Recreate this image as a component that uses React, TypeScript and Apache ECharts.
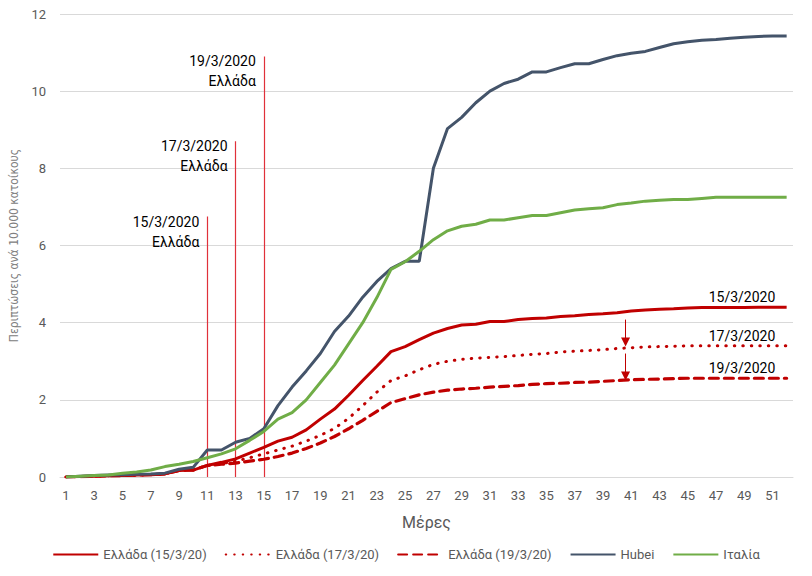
import React, { useEffect, useRef } from "react";
import * as echarts from "echarts";

const days = [1, 2, 3, 4, 5, 6, 7, 8, 9, 10, 11, 12, 13, 14, 15, 16, 17, 18, 19, 20, 21, 22, 23, 24, 25, 26, 27, 28, 29, 30, 31, 32, 33, 34, 35, 36, 37, 38, 39, 40, 41, 42, 43, 44, 45, 46, 47, 48, 49, 50, 51, 52];
const tickDays = [1, 3, 5, 7, 9, 11, 13, 15, 17, 19, 21, 23, 25, 27, 29, 31, 33, 35, 37, 39, 41, 43, 45, 47, 49, 51];

const greece15 = [0, 0.01, 0.02, 0.03, 0.04, 0.05, 0.06, 0.08, 0.17, 0.18, 0.3, 0.38, 0.47, 0.62, 0.77, 0.93, 1.03, 1.22, 1.5, 1.76, 2.12, 2.5, 2.87, 3.25, 3.38, 3.56, 3.73, 3.85, 3.94, 3.96, 4.03, 4.03, 4.08, 4.11, 4.12, 4.16, 4.18, 4.21, 4.23, 4.26, 4.3, 4.33, 4.35, 4.36, 4.38, 4.39, 4.39, 4.39, 4.39, 4.4, 4.4, 4.4];
const greece17 = [0, 0.01, 0.02, 0.03, 0.04, 0.05, 0.06, 0.08, 0.17, 0.18, 0.3, 0.35, 0.41, 0.5, 0.6, 0.7, 0.8, 0.93, 1.08, 1.26, 1.52, 1.85, 2.2, 2.5, 2.62, 2.78, 2.92, 3.0, 3.05, 3.08, 3.1, 3.12, 3.15, 3.18, 3.2, 3.24, 3.26, 3.28, 3.3, 3.33, 3.35, 3.37, 3.38, 3.39, 3.4, 3.4, 3.4, 3.4, 3.4, 3.4, 3.4, 3.4];
const greece19 = [0, 0.01, 0.02, 0.03, 0.04, 0.05, 0.06, 0.08, 0.17, 0.18, 0.3, 0.33, 0.36, 0.41, 0.46, 0.53, 0.62, 0.74, 0.88, 1.05, 1.25, 1.47, 1.7, 1.93, 2.03, 2.13, 2.2, 2.25, 2.28, 2.3, 2.33, 2.35, 2.37, 2.4, 2.42, 2.43, 2.45, 2.46, 2.48, 2.5, 2.52, 2.53, 2.54, 2.55, 2.56, 2.56, 2.56, 2.56, 2.56, 2.56, 2.56, 2.56];
const hubei = [0, 0.02, 0.04, 0.05, 0.06, 0.07, 0.08, 0.1, 0.2, 0.25, 0.7, 0.7, 0.9, 1.0, 1.25, 1.85, 2.33, 2.75, 3.2, 3.77, 4.17, 4.66, 5.07, 5.4, 5.59, 5.59, 8.0, 9.03, 9.32, 9.7, 10.0, 10.2, 10.31, 10.5, 10.5, 10.61, 10.71, 10.71, 10.82, 10.92, 10.98, 11.03, 11.13, 11.23, 11.28, 11.32, 11.34, 11.37, 11.4, 11.42, 11.43, 11.43];
const italy = [0, 0.02, 0.04, 0.05, 0.1, 0.13, 0.18, 0.27, 0.33, 0.4, 0.5, 0.6, 0.73, 0.95, 1.18, 1.5, 1.67, 2.0, 2.45, 2.9, 3.45, 4.0, 4.65, 5.38, 5.58, 5.85, 6.15, 6.38, 6.5, 6.55, 6.66, 6.66, 6.72, 6.78, 6.78, 6.85, 6.92, 6.95, 6.98, 7.06, 7.1, 7.15, 7.17, 7.19, 7.19, 7.22, 7.25, 7.25, 7.25, 7.25, 7.25, 7.25];

const seriesNames = ["Ελλάδα (15/3/20)", "Ελλάδα (17/3/20)", "Ελλάδα (19/3/20)", "Hubei", "Ιταλία"];

// vertical annotation lines
const annotationDays = [11, 13, 15];
const annotationTops = [6.75, 8.7, 10.9];
const annotationLabels = ["15/3/2020", "17/3/2020", "19/3/2020"];
const annotationSub = "Ελλάδα";

// right-hand labels
const endLabelDay = 51.2;
const endLabels = ["15/3/2020", "17/3/2020", "19/3/2020"];
const endLabelValues = [4.4, 3.4, 2.56];

// arrows
const arrowDay = 40.6;
const arrowStarts = [4.08, 3.2];
const arrowEnds = [3.5, 2.62];

const FONT = "Roboto, 'Noto Sans', sans-serif";
const RED = "#C00000";
const HUBEI = "#44546A";
const ITALY = "#70AD47";

function pairs(vals: number[]) {
  return days.map((d, i) => [d, vals[i]]);
}

export default function App() {
  const ref = useRef<HTMLDivElement>(null);
  useEffect(() => {
    const chart = echarts.init(ref.current!, null, { renderer: "svg" });

    const vLines = annotationDays.map((d, i) => [
      { coord: [d, 0] },
      { coord: [d, annotationTops[i]] },
    ]);
    const arrows = arrowStarts.map((s, i) => [
      { coord: [arrowDay, s], symbol: "none" },
      { coord: [arrowDay, arrowEnds[i]], symbol: "triangle", symbolSize: [9, 9], symbolRotate: 180 },
    ]);

    const option: any = {
      animation: false,
      backgroundColor: "#ffffff",
      textStyle: { fontFamily: FONT },
      grid: { left: 60, right: 19, top: 14, bottom: 99, containLabel: false },
      legend: {
        data: seriesNames,
        top: 543,
        left: "center",
        itemWidth: 45,
        itemHeight: 4,
        itemGap: 18,
        itemStyle: { opacity: 0 },
        textStyle: { fontSize: 13, color: "#595959", fontFamily: FONT },
      },
      xAxis: {
        type: "value",
        min: 0.575,
        max: 52.45,
        name: "Μέρες",
        nameLocation: "middle",
        nameGap: 37,
        nameTextStyle: { fontSize: 16, color: "#595959", fontFamily: FONT },
        axisLine: { show: true, lineStyle: { color: "#D9D9D9", width: 1 } },
        axisTick: { show: false },
        splitLine: { show: false },
        axisLabel: {
          customValues: tickDays,
          fontSize: 13,
          color: "#595959",
          margin: 12,
          fontFamily: FONT,
        },
      },
      yAxis: {
        type: "value",
        min: 0,
        max: 12,
        interval: 2,
        name: "Περιπτώσεις ανά 10.000 κατοίκους",
        nameLocation: "middle",
        nameGap: 32,
        nameTextStyle: {
          fontSize: 12,
          color: "#808080",
          padding: [0, 0, 0, 0],
          fontFamily: "'DejaVu Sans Condensed', 'Liberation Sans Narrow', Roboto, sans-serif",
        },
        axisLine: { show: false },
        axisTick: { show: false },
        splitLine: { show: true, lineStyle: { color: "#D9D9D9", width: 1 } },
        axisLabel: { fontSize: 13, color: "#595959", margin: 14, fontFamily: FONT },
      },
      series: [
        {
          name: seriesNames[0],
          type: "line",
          data: pairs(greece15),
          symbol: "none",
          lineStyle: { color: RED, width: 3 },
          itemStyle: { color: RED },
          z: 3,
          markLine: {
            silent: true,
            symbol: "none",
            label: { show: false },
            lineStyle: { color: "#E0303A", width: 1.2, type: "solid" },
            data: [...vLines],
            z: 1,
          },
        },
        {
          name: seriesNames[1],
          type: "line",
          data: pairs(greece17),
          symbol: "none",
          lineStyle: { color: RED, width: 3, type: [0.5, 8], cap: "round" },
          itemStyle: { color: RED },
          z: 3,
          markLine: {
            silent: true,
            label: { show: false },
            lineStyle: { color: RED, width: 1, type: "solid" },
            data: arrows,
          },
        },
        {
          name: seriesNames[2],
          type: "line",
          data: pairs(greece19),
          symbol: "none",
          lineStyle: { color: RED, width: 3.2, type: [9, 6], cap: "round" },
          itemStyle: { color: RED },
          z: 3,
        },
        {
          name: seriesNames[3],
          type: "line",
          data: pairs(hubei),
          symbol: "none",
          lineStyle: { color: HUBEI, width: 3 },
          itemStyle: { color: HUBEI },
          z: 4,
        },
        {
          name: seriesNames[4],
          type: "line",
          data: pairs(italy),
          symbol: "none",
          lineStyle: { color: ITALY, width: 3 },
          itemStyle: { color: ITALY },
          z: 4,
        },
      ],
    };

    chart.setOption(option);

    const graphics: any[] = [];
    annotationDays.forEach((d, i) => {
      const p = chart.convertToPixel({ gridIndex: 0 }, [d, annotationTops[i]]) as number[];
      graphics.push({
        type: "text",
        x: p[0] - 8,
        y: p[1] - 5,
        z: 10,
        style: {
          text: annotationLabels[i] + "\n" + annotationSub,
          align: "right",
          verticalAlign: "top",
          textAlign: "right",
          textVerticalAlign: "top",
          lineHeight: 20,
          fontSize: 14,
          fontFamily: FONT,
          fill: "#000000",
        },
      });
    });
    endLabels.forEach((t, i) => {
      const p = chart.convertToPixel({ gridIndex: 0 }, [endLabelDay, endLabelValues[i]]) as number[];
      graphics.push({
        type: "text",
        x: p[0],
        y: p[1] - 10,
        z: 10,
        style: {
          text: t,
          align: "right",
          verticalAlign: "middle",
          textAlign: "right",
          textVerticalAlign: "middle",
          fontSize: 14,
          fontFamily: FONT,
          fill: "#000000",
        },
      });
    });
    chart.setOption({ graphic: graphics });

    return () => chart.dispose();
  }, []);
  return <div ref={ref} style={{ position: "fixed", left: 0, top: 0, width: 812, height: 576 }} />;
}
